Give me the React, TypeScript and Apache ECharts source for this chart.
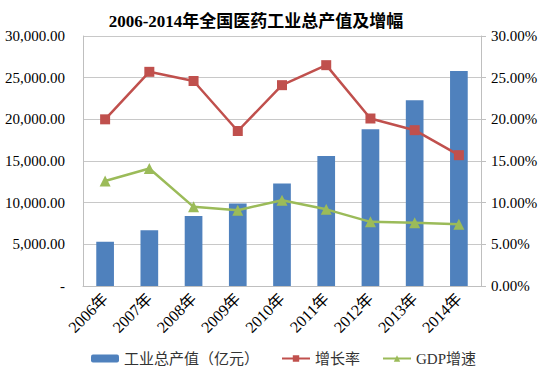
import React, { useEffect, useRef } from "react";
import * as echarts from "echarts";

const categories = ["2006年", "2007年", "2008年", "2009年", "2010年", "2011年", "2012年", "2013年", "2014年"];
const outputValue = [5300, 6700, 8400, 9900, 12300, 15600, 18800, 22300, 25800];
const growthRate = [20.0, 25.7, 24.6, 18.6, 24.1, 26.5, 20.1, 18.7, 15.7];
const gdpGrowth = [12.6, 14.1, 9.5, 9.1, 10.3, 9.2, 7.7, 7.6, 7.4];

const FONT = "'Liberation Serif', 'Noto Sans CJK SC', serif";

export default function App() {
  const ref = useRef<HTMLDivElement>(null);
  useEffect(() => {
    if (!ref.current) return;
    const chart = echarts.init(ref.current, null, { renderer: "svg" });
    chart.setOption({
      animation: false,
      backgroundColor: "#ffffff",
      textStyle: { fontFamily: FONT, color: "#000" },
      title: {
        text: "2006-2014年全国医药工业总产值及增幅",
        left: 251,
        top: 8,
        textAlign: "center",
        textStyle: { fontFamily: FONT, fontSize: 17, fontWeight: "bold", color: "#000" },
      },
      grid: { left: 83, right: 64, top: 36, bottom: 89, containLabel: false },
      legend: {
        left: 86,
        top: 346,
        itemGap: 22,
        itemWidth: 28,
        itemHeight: 8,
        textStyle: { fontFamily: FONT, fontSize: 15, color: "#333" },
        data: ["工业总产值（亿元）", "增长率", "GDP增速"],
      },
      xAxis: {
        type: "category",
        data: categories,
        axisLine: { lineStyle: { color: "#bfbfbf" } },
        axisTick: { show: false },
        axisLabel: { rotate: 45, fontSize: 16, color: "#000", fontFamily: FONT, margin: 10, interval: 0 },
      },
      yAxis: [
        {
          type: "value",
          min: 0,
          max: 30000,
          interval: 5000,
          axisLine: { show: true, lineStyle: { color: "#bfbfbf" } },
          axisTick: { show: false },
          splitLine: { lineStyle: { color: "#c8c8c8", width: 1 } },
          axisLabel: {
            fontSize: 15,
            color: "#000",
            fontFamily: FONT,
            margin: 18,
            formatter: (v: number) =>
              v === 0 ? "-" : v.toLocaleString("en-US", { minimumFractionDigits: 2, maximumFractionDigits: 2 }),
          },
        },
        {
          type: "value",
          min: 0,
          max: 30,
          interval: 5,
          position: "right",
          axisLine: { show: true, lineStyle: { color: "#bfbfbf" } },
          axisTick: { show: true, length: 5, lineStyle: { color: "#bfbfbf" } },
          splitLine: { show: false },
          axisLabel: {
            fontSize: 15,
            color: "#000",
            fontFamily: FONT,
            margin: 10,
            formatter: (v: number) => v.toFixed(2) + "%",
          },
        },
      ],
      series: [
        {
          name: "工业总产值（亿元）",
          type: "bar",
          data: outputValue,
          barWidth: "40%",
          itemStyle: { color: "#4F81BD" },
        },
        {
          name: "增长率",
          type: "line",
          yAxisIndex: 1,
          data: growthRate,
          symbol: "rect",
          symbolSize: 10,
          lineStyle: { color: "#C0504D", width: 2.5 },
          itemStyle: { color: "#C0504D" },
        },
        {
          name: "GDP增速",
          type: "line",
          yAxisIndex: 1,
          data: gdpGrowth,
          symbol: "triangle",
          symbolSize: 11,
          lineStyle: { color: "#9BBB59", width: 2.5 },
          itemStyle: { color: "#9BBB59" },
        },
      ],
    });
    return () => chart.dispose();
  }, []);
  return <div ref={ref} style={{ position: "fixed", left: 0, top: 0, width: 545, height: 375 }} />;
}
